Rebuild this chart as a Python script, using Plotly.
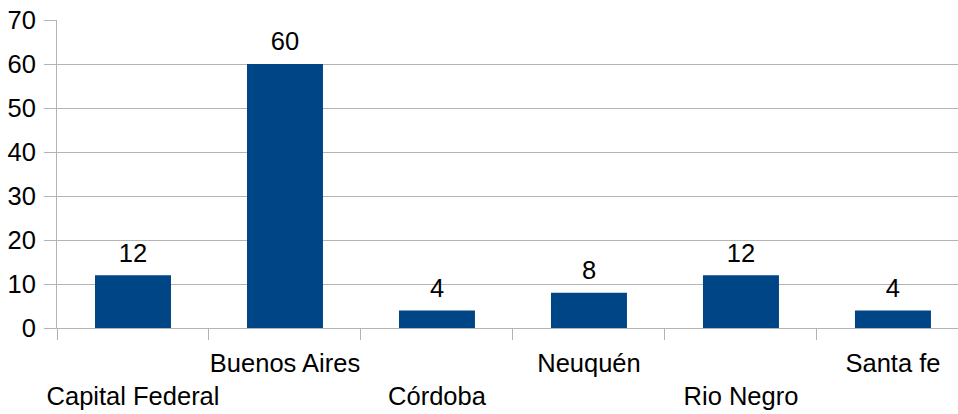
import plotly.graph_objects as go

categories = ["Capital Federal", "Buenos Aires", "Córdoba", "Neuquén", "Rio Negro", "Santa fe"]
values = [12, 60, 4, 8, 12, 4]
y_ticks = [0, 10, 20, 30, 40, 50, 60, 70]

# staggered category labels (even index on the lower row)
tick_text = [("<br>" + c) if i % 2 == 0 else c for i, c in enumerate(categories)]

GRID = "#b3b3b3"
FONT = "Liberation Sans, Arial, sans-serif"
FS = 25.5

fig = go.Figure()
fig.add_trace(go.Bar(
    x=categories,
    y=values,
    marker=dict(color="#004586", line=dict(width=0)),
    width=0.5,
    hoverinfo="x+y",
))
fig.add_trace(go.Scatter(
    x=categories,
    y=values,
    mode="markers+text",
    marker=dict(size=10, opacity=0),
    text=[str(v) for v in values],
    textposition="top center",
    textfont=dict(family=FONT, size=FS, color="#000000"),
    cliponaxis=False,
    hoverinfo="skip",
))

fig.update_layout(
    width=958,
    height=414,
    margin=dict(l=57, r=0, t=20, b=86),
    paper_bgcolor="white",
    plot_bgcolor="white",
    showlegend=False,
    font=dict(family=FONT, size=FS, color="#000000"),
    xaxis=dict(
        type="category",
        range=[-0.5, 5.428],
        tickmode="array",
        tickvals=categories,
        ticktext=tick_text,
        tickangle=0,
        tickson="boundaries",
        ticks="outside",
        ticklen=11,
        tickcolor=GRID,
        tickwidth=1,
        ticklabelstandoff=12,
        ticklabeloverflow="allow",
        showgrid=False,
        showline=True,
        linecolor=GRID,
        linewidth=1,
        automargin=False,
        tickfont=dict(family=FONT, size=FS, color="#000000"),
        fixedrange=True,
    ),
    yaxis=dict(
        range=[0, 70],
        tickmode="array",
        tickvals=y_ticks,
        ticktext=[str(t) for t in y_ticks],
        ticks="outside",
        ticklen=12,
        tickcolor=GRID,
        tickwidth=1,
        ticklabelstandoff=3,
        ticklabeloverflow="allow",
        showgrid=True,
        gridcolor=GRID,
        gridwidth=1,
        showline=True,
        linecolor=GRID,
        linewidth=1,
        zeroline=False,
        automargin=False,
        tickfont=dict(family=FONT, size=FS, color="#000000"),
        fixedrange=True,
    ),
)

fig.write_html(
    "out.html",
    config={"displayModeBar": False},
    post_script="document.body.style.margin='0';document.body.style.overflow='hidden';",
)
